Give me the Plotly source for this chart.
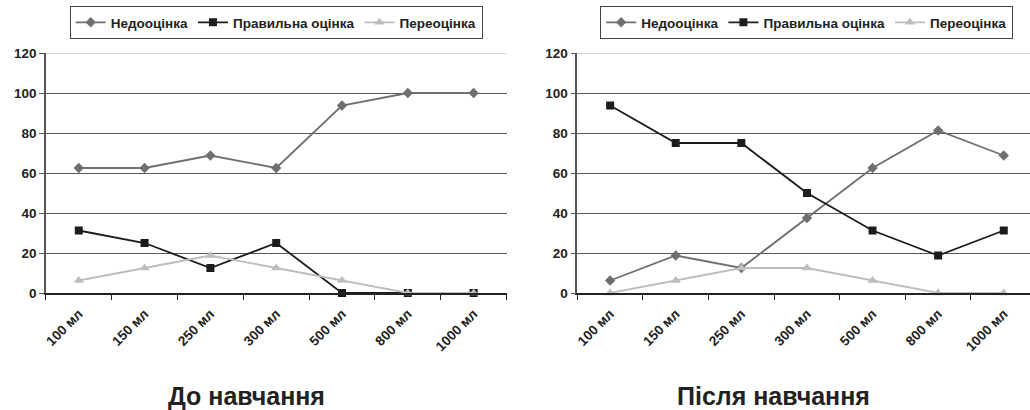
import plotly.graph_objects as go

categories = ["100 мл", "150 мл", "250 мл", "300 мл", "500 мл", "800 мл", "1000 мл"]
series_names = ["Недооцінка", "Правильна оцінка", "Переоцінка"]

before_under = [62.5, 62.5, 68.75, 62.5, 93.75, 100, 100]
before_correct = [31.25, 25, 12.5, 25, 0, 0, 0]
before_over = [6.25, 12.5, 18.75, 12.5, 6.25, 0, 0]

after_under = [6.25, 18.75, 12.5, 37.5, 62.5, 81.25, 68.75]
after_correct = [93.75, 75, 75, 50, 31.25, 18.75, 31.25]
after_over = [0, 6.25, 12.5, 12.5, 6.25, 0, 0]

panel_titles = ["До навчання", "Після навчання"]
y_ticks = [0, 20, 40, 60, 80, 100, 120]

FONT = "Liberation Sans, Arial, sans-serif"
styles = [
    dict(color="#6f6f6f", symbol="diamond", size=8, width=1.8),
    dict(color="#1c1c1c", symbol="square", size=8, width=1.8),
    dict(color="#bdbdbd", symbol="triangle-up", size=9, width=1.8),
]

fig = go.Figure()
panels = [
    ("x", "y", "legend", [before_under, before_correct, before_over]),
    ("x2", "y2", "legend2", [after_under, after_correct, after_over]),
]
for xa, ya, leg, data in panels:
    for name, vals, st in zip(series_names, data, styles):
        fig.add_trace(go.Scatter(
            x=categories, y=vals, name=f"<b>{name}</b>", mode="lines+markers",
            xaxis=xa, yaxis=ya, legend=leg, cliponaxis=False,
            line=dict(color=st["color"], width=st["width"]),
            marker=dict(color=st["color"], symbol=st["symbol"], size=st["size"]),
        ))

W, H = 1030, 410
common_x = dict(
    type="category", tickson="boundaries", ticks="outside", ticklen=5,
    tickcolor="#222", tickwidth=1.2, showline=True, linecolor="#222", linewidth=1.5,
    showgrid=False, tickangle=-45, ticklabelstandoff=6,
    tickvals=categories, ticktext=[f"<b>{c}</b>" for c in categories],
    tickfont=dict(family=FONT, size=13.5, color="#222"),
)
common_y = dict(
    range=[0, 120], tickvals=y_ticks, ticktext=[f"<b>{v}</b>" for v in y_ticks],
    ticks="outside", ticklen=5, tickcolor="#555",
    showline=True, linecolor="#555", linewidth=1.5, showgrid=True,
    gridcolor="#585858", gridwidth=1, zeroline=False,
    tickfont=dict(family=FONT, size=13.5, color="#222"),
)
fig.update_layout(
    width=W, height=H, margin=dict(l=0, r=0, t=53, b=117),
    paper_bgcolor="white", plot_bgcolor="white", showlegend=True,
    xaxis=dict(domain=[43 / W, 505 / W], anchor="y", range=[-0.5, 6.5], **common_x),
    yaxis=dict(anchor="x", **common_y),
    xaxis2=dict(domain=[576 / W, 1.0], anchor="y2", range=[-0.5, 6.4], **common_x),
    yaxis2=dict(anchor="x2", **common_y),
)
leg_common = dict(
    orientation="h", yref="container", y=1 - 6 / H, yanchor="top", xanchor="center",
    xref="paper", bgcolor="white", bordercolor="#444", borderwidth=1,
    font=dict(family=FONT, size=13.5, color="#222"),
    itemwidth=30, tracegroupgap=0, itemclick=False,
)
fig.update_layout(
    legend=dict(x=274 / W, **leg_common),
    legend2=dict(x=806 / W, **leg_common),
)
# light top gridline at axis maximum
for xa, ya in [("x", "y"), ("x2", "y2")]:
    fig.add_shape(type="line", xref=f"{xa} domain", yref=ya, x0=0, x1=1,
                  y0=y_ticks[-1], y1=y_ticks[-1], line=dict(color="#c4c4c4", width=1.5))
# panel titles
for title, cx in zip(panel_titles, [244 / W, 773 / W]):
    fig.add_annotation(text=f"<b>{title}</b>", xref="paper", yref="paper", x=cx,
                       y=(293 - 396) / 240, xanchor="center", yanchor="middle",
                       showarrow=False, font=dict(family=FONT, size=25, color="#222"))

fig.write_html("out.html")
